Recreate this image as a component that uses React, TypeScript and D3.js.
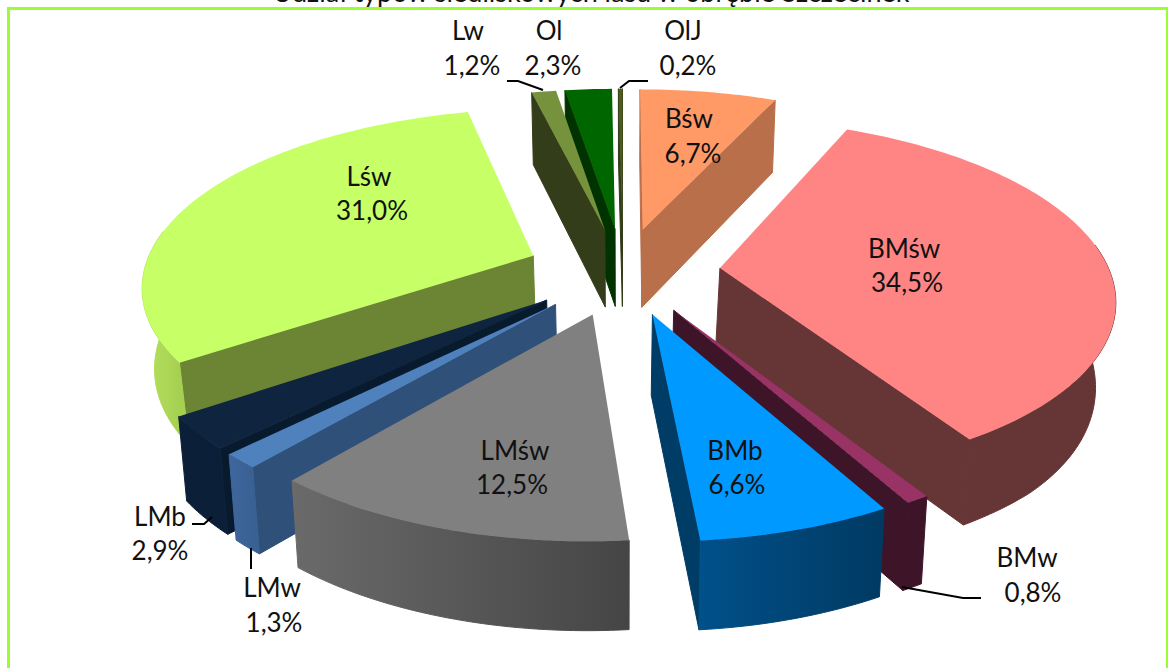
import React from "react";
import * as d3 from "d3";

const categories = ["Bśw", "BMśw", "BMw", "BMb", "LMśw", "LMw", "LMb", "Lśw", "Lw", "Ol", "OlJ"];
const shares = [6.7, 34.5, 0.8, 6.6, 12.5, 1.3, 2.9, 31.0, 1.2, 2.3, 0.2];
const topColors = ["#FF9966", "#FF8585", "#993366", "#0099FF", "#808080", "#4F81BD", "#0F243E", "#C6FF66", "#76923C", "#006600", "#4F5A1E"];
const sideColors = ["#B86F4A", "#663535", "#3D1428", "#003D66", "#5A5A5A", "#2F5078", "#071A2E", "#6B8535", "#333D1A", "#003300", "#333D1A"];
const outerLeft = ["#B86F4A", "#663535", "#3D1428", "#00508A", "#6A6A6A", "#3F679E", "#0B2038", "#B5E35E", "#333D1A", "#003300", "#333D1A"];
const outerRight = ["#B86F4A", "#663535", "#3D1428", "#003A62", "#454545", "#3A6193", "#0B2038", "#A6D052", "#333D1A", "#003300", "#333D1A"];

const title = "Udział typów siedliskowych lasu w obrębie Szczecinek";
const fmt = (v: number) => v.toFixed(1).replace(".", ",") + "%";

// label anchors (name baseline; value is drawn one line below)
const labelAnchors: Record<string, [number, number, number, number]> = {
  "Bśw": [689, 128, 693, 163],
  "BMśw": [904, 258, 907, 292],
  "BMw": [1027, 567, 1033, 602],
  "BMb": [735, 460, 737, 494],
  "LMśw": [515, 460, 512, 494],
  "LMw": [272, 597, 274, 632],
  "LMb": [160, 526, 160, 560],
  "Lśw": [369, 186, 372, 220],
  "Lw": [468, 40, 472, 75],
  "Ol": [549, 40, 553, 75],
  "OlJ": [683, 40, 688, 75],
};
const leaders: [number, number][][] = [
  [[507, 81], [518, 81], [543, 90]],
  [[648, 81], [629, 81], [620, 88]],
  [[192, 524], [204, 524], [212, 517]],
  [[251, 548], [251, 569]],
  [[902, 587], [963, 598], [981, 598]],
];

const W = 1168, H = 668;
const CX = 623, CY = 271, RX = 389.5, RY = 175, KX = 0.155, KY = 0.16, EXPLODE = 0.25;

type P = { x: number; y: number };
const project = (p: P, bottom = false): [number, number] => {
  const s = 1 / (1 + KY * p.y);
  const sx = CX + (RX * p.x) / (1 + KX * p.y);
  const sy = CY - RY * p.y * s;
  if (!bottom) return [sx, sy];
  const bulge = p.x < 0 ? 0.008 : 0.025;
  const shrink = 0.018 + bulge * Math.max(0, 1 - (p.y / 0.7) ** 2);
  return [CX + (sx - CX) * (1 - shrink), sy + 37 + 42 * s];
};
const line = d3.line<[number, number]>().curve(d3.curveLinear);
const pathOf = (pts: [number, number][]) => line(pts)! + "Z";

const arcs = d3.pie<number>().sort(null).startAngle(0).endAngle(2 * Math.PI)(shares);

type Face = { key: string; d: string; fill: string; stroke: string };
const gradients: { id: string; x1: number; x2: number; c1: string; c2: string }[] = [];

const slices = arcs.map((a, i) => {
  const mid = (a.startAngle + a.endAngle) / 2;
  const ex = EXPLODE * Math.sin(mid);
  const ey = EXPLODE * Math.cos(mid);
  const at = (r: number, t: number): P => ({ x: ex + r * Math.sin(t), y: ey + r * Math.cos(t) });
  const n = Math.max(2, Math.ceil((a.endAngle - a.startAngle) / 0.02));
  const angles = d3.range(n + 1).map((j) => a.startAngle + ((a.endAngle - a.startAngle) * j) / n);
  const rim = angles.map((t) => at(1, t));
  const apex = at(0, 0);
  const topFace: [number, number][] = [project(apex), ...rim.map((p) => project(p))];
  const faces: Face[] = [];
  const wall = (ps: P[], key: string, fill: string) => {
    const poly: [number, number][] = [...ps.map((p) => project(p)), ...ps.slice().reverse().map((p) => project(p, true))];
    // a wall is visible when it winds opposite to the top face as seen on screen
    if (d3.polygonArea(poly) * d3.polygonArea(topFace) < 0) faces.push({ key, d: pathOf(poly), fill, stroke: fill });
  };
  wall([apex, rim[0]], "start", sideColors[i]);
  wall([rim[rim.length - 1], apex], "end", sideColors[i]);
  // outer wall: keep only the part of the rim that faces the viewer
  const frontRim = rim.filter((_, j) => Math.cos(angles[j]) < 0.15);
  if (frontRim.length > 1) {
    const id = `outer-${i}`;
    const xs = frontRim.map((p) => project(p)[0]);
    gradients.push({ id, x1: d3.min(xs)!, x2: d3.max(xs)!, c1: outerLeft[i], c2: outerRight[i] });
    const poly: [number, number][] = [...frontRim.map((p) => project(p)), ...frontRim.slice().reverse().map((p) => project(p, true))];
    faces.push({ key: "outer", d: pathOf(poly), fill: `url(#${id})`, stroke: `url(#${id})` });
  }
  return { i, order: Math.cos(mid), faces, top: pathOf(topFace) };
});
const drawOrder = d3.sort(slices, (d) => -d.order);

const FONT = "Lato, Carlito, 'Open Sans', sans-serif";

export default function App() {
  return (
    <svg width={W} height={H} style={{ position: "absolute", left: 0, top: 0, background: "#fff" }}>
      <defs>
        {gradients.map((g) => (
          <linearGradient key={g.id} id={g.id} gradientUnits="userSpaceOnUse" x1={g.x1} x2={g.x2} y1={0} y2={0}>
            <stop offset="0" stopColor={g.c1} />
            <stop offset="1" stopColor={g.c2} />
          </linearGradient>
        ))}
      </defs>
      <path d="M8.5,668 V8.5 H1167.5 V668" fill="none" stroke="#99FF33" strokeWidth={3} />
      <text x={591} y={1.5} textAnchor="middle" fontFamily={FONT} fontSize={27} fill="#111">{title}</text>
      {drawOrder.map((s) => (
        <g key={s.i}>
          {s.faces.map((f) => (
            <path key={f.key} d={f.d} fill={f.fill} stroke={f.stroke} strokeWidth={1} strokeLinejoin="round" />
          ))}
          <path d={s.top} fill={topColors[s.i]} />
        </g>
      ))}
      {leaders.map((l, i) => (
        <path key={i} d={line(l)!} fill="none" stroke="#000" strokeWidth={2} />
      ))}
      {categories.map((c, i) => {
        const [x1, y1, x2, y2] = labelAnchors[c];
        return (
          <g key={c} fontFamily={FONT} fontSize={26} fill="#111" textAnchor="middle">
            <text x={x1} y={y1}>{c}</text>
            <text x={x2} y={y2}>{fmt(shares[i])}</text>
          </g>
        );
      })}
    </svg>
  );
}
